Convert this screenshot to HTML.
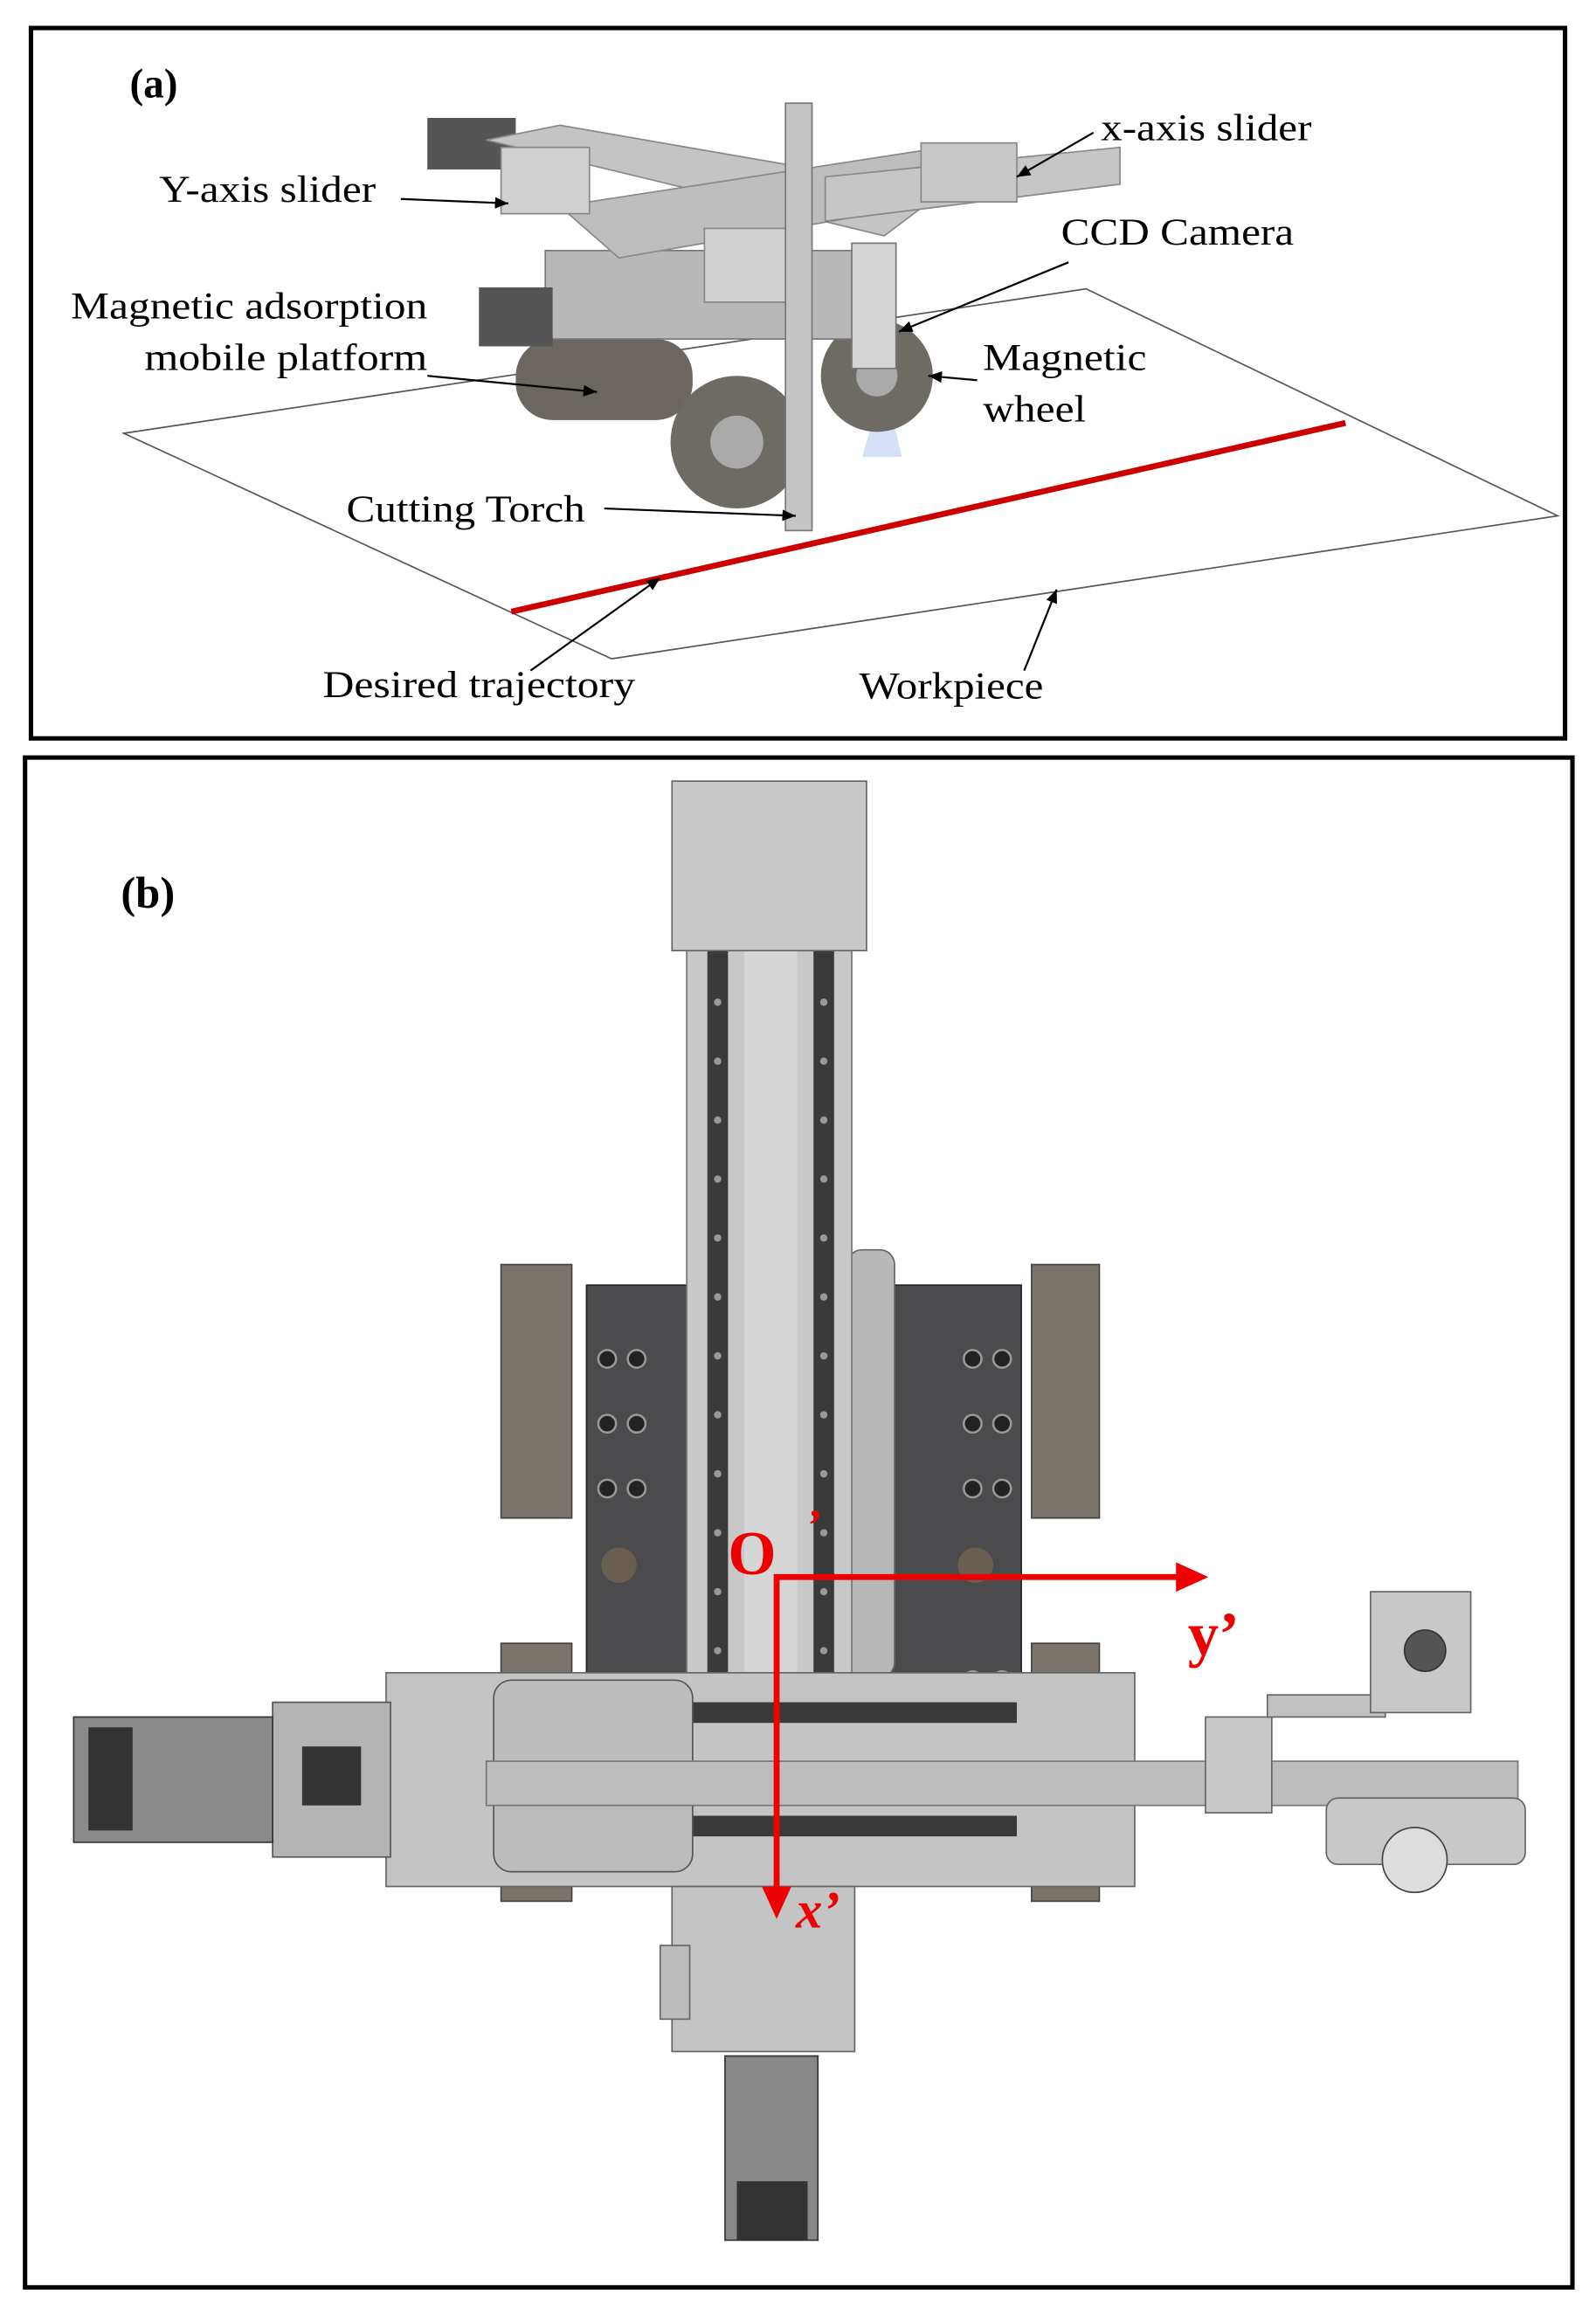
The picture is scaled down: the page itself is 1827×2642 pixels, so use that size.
<!DOCTYPE html>
<html><head><meta charset="utf-8"><style>
html,body{margin:0;padding:0;background:#fff;}
svg{display:block;}
text{font-family:"Liberation Serif",serif;}
</style></head><body>
<svg width="1827" height="2642" viewBox="0 0 1083 1566" preserveAspectRatio="none" xmlns="http://www.w3.org/2000/svg">
<defs>
<marker id="ar" markerWidth="8" markerHeight="8" refX="7" refY="4" orient="auto"><path d="M0,1 L7,4 L0,7 z" fill="#000"/></marker>
</defs>
<rect x="0" y="0" width="1083" height="1566" fill="#fff"/>
<!-- panel a -->
<rect x="21" y="19" width="1041" height="482" fill="#fff" stroke="#000" stroke-width="3"/>
<text x="88" y="66" font-size="28" font-weight="bold">(a)</text>
<polygon points="84,294 737,196 1057,350 415,447" fill="#fff" stroke="#555" stroke-width="1"/>
<line x1="347" y1="415" x2="913" y2="287" stroke="#c00" stroke-width="4"/>
<!-- machine (a) -->
<polygon points="585,310 600,260 612,310" fill="#c8d8f4" opacity="0.8"/>
<rect x="350" y="230" width="120" height="55" rx="25" fill="#6b6660"/>
<circle cx="500" cy="300" r="45" fill="#6e6a64"/><circle cx="500" cy="300" r="18" fill="#aaa"/>
<circle cx="595" cy="255" r="38" fill="#6e6a64"/><circle cx="595" cy="255" r="14" fill="#aaa"/>
<rect x="370" y="170" width="210" height="60" fill="#b8b8b8" stroke="#777"/>
<rect x="325" y="195" width="50" height="40" fill="#555"/>
<rect x="290" y="80" width="60" height="35" fill="#555"/>
<polygon points="330,95 380,85 640,130 600,160" fill="#c4c4c4" stroke="#888"/>
<polygon points="380,140 640,100 680,130 420,175" fill="#bdbdbd" stroke="#888"/>
<polygon points="560,120 760,100 760,125 560,150" fill="#c6c6c6" stroke="#888"/>
<rect x="625" y="97" width="65" height="40" fill="#c8c8c8" stroke="#888"/>
<rect x="340" y="100" width="60" height="45" fill="#d0d0d0" stroke="#888"/>
<rect x="478" y="155" width="60" height="50" fill="#d0d0d0" stroke="#888"/>
<rect x="533" y="70" width="18" height="290" fill="#c4c4c4" stroke="#777"/>
<rect x="578" y="165" width="30" height="85" fill="#d4d4d4" stroke="#777"/>
<!-- labels a -->
<g font-size="26" fill="#000" lengthAdjust="spacingAndGlyphs">
<text x="108" y="137" textLength="147" lengthAdjust="spacingAndGlyphs">Y-axis slider</text>
<text x="747" y="95" textLength="143" lengthAdjust="spacingAndGlyphs">x-axis slider</text>
<text x="720" y="166" textLength="158" lengthAdjust="spacingAndGlyphs">CCD Camera</text>
<text x="48" y="216" textLength="242" lengthAdjust="spacingAndGlyphs">Magnetic adsorption</text>
<text x="98" y="251" textLength="192" lengthAdjust="spacingAndGlyphs">mobile platform</text>
<text x="667" y="251" textLength="111" lengthAdjust="spacingAndGlyphs">Magnetic</text>
<text x="667" y="286" textLength="70" lengthAdjust="spacingAndGlyphs">wheel</text>
<text x="235" y="354" textLength="162" lengthAdjust="spacingAndGlyphs">Cutting Torch</text>
<text x="219" y="473" textLength="212" lengthAdjust="spacingAndGlyphs">Desired trajectory</text>
<text x="583" y="474" textLength="125" lengthAdjust="spacingAndGlyphs">Workpiece</text>
</g>
<g stroke="#000" stroke-width="1.3" fill="none" marker-end="url(#ar)">
<line x1="272" y1="135" x2="345" y2="138"/>
<line x1="742" y1="90" x2="690" y2="120"/>
<line x1="725" y1="178" x2="610" y2="225"/>
<line x1="290" y1="255" x2="405" y2="266"/>
<line x1="663" y1="258" x2="630" y2="255"/>
<line x1="410" y1="345" x2="540" y2="350"/>
<line x1="360" y1="455" x2="448" y2="392"/>
<line x1="695" y1="455" x2="717" y2="400"/>
</g>
<!-- panel b -->
<rect x="17" y="514" width="1050" height="1038" fill="#fff" stroke="#000" stroke-width="3"/>
<text x="82" y="616" font-size="30" font-weight="bold">(b)</text>
<g fill="#7a746c" stroke="#444">
<rect x="340" y="858" width="48" height="172"/>
<rect x="700" y="858" width="46" height="172"/>
<rect x="340" y="1115" width="48" height="25"/>
<rect x="700" y="1115" width="46" height="25"/>
<rect x="340" y="1265" width="48" height="25"/>
<rect x="700" y="1265" width="46" height="25"/>
</g>
<rect x="398" y="872" width="295" height="288" fill="#4b4b4d" stroke="#222"/>
<rect x="575" y="848" width="32" height="290" rx="10" fill="#b8b8b8" stroke="#666"/>
<g fill="#222" stroke="#999" stroke-width="1.5">
<circle cx="412" cy="922" r="6"/><circle cx="432" cy="922" r="6"/>
<circle cx="412" cy="966" r="6"/><circle cx="432" cy="966" r="6"/>
<circle cx="412" cy="1010" r="6"/><circle cx="432" cy="1010" r="6"/>
<circle cx="660" cy="922" r="6"/><circle cx="680" cy="922" r="6"/>
<circle cx="660" cy="966" r="6"/><circle cx="680" cy="966" r="6"/>
<circle cx="660" cy="1010" r="6"/><circle cx="680" cy="1010" r="6"/>
<circle cx="660" cy="1140" r="6"/><circle cx="680" cy="1140" r="6"/>
</g>
<circle cx="420" cy="1062" r="12" fill="#6a5e50"/>
<circle cx="662" cy="1062" r="12" fill="#6a5e50"/>
<rect x="466" y="645" width="112" height="510" fill="#c8c8c8" stroke="#777"/>
<rect x="480" y="645" width="14" height="510" fill="#3a3a3a"/>
<rect x="552" y="645" width="14" height="510" fill="#3a3a3a"/>
<rect x="505" y="645" width="36" height="510" fill="#d6d6d6"/>
<g fill="#999">
<circle cx="487" cy="680" r="2.5"/><circle cx="487" cy="720" r="2.5"/><circle cx="487" cy="760" r="2.5"/><circle cx="487" cy="800" r="2.5"/><circle cx="487" cy="840" r="2.5"/><circle cx="487" cy="880" r="2.5"/><circle cx="487" cy="920" r="2.5"/><circle cx="487" cy="960" r="2.5"/><circle cx="487" cy="1000" r="2.5"/><circle cx="487" cy="1040" r="2.5"/><circle cx="487" cy="1080" r="2.5"/><circle cx="487" cy="1120" r="2.5"/>
<circle cx="559" cy="680" r="2.5"/><circle cx="559" cy="720" r="2.5"/><circle cx="559" cy="760" r="2.5"/><circle cx="559" cy="800" r="2.5"/><circle cx="559" cy="840" r="2.5"/><circle cx="559" cy="880" r="2.5"/><circle cx="559" cy="920" r="2.5"/><circle cx="559" cy="960" r="2.5"/><circle cx="559" cy="1000" r="2.5"/><circle cx="559" cy="1040" r="2.5"/><circle cx="559" cy="1080" r="2.5"/><circle cx="559" cy="1120" r="2.5"/>
</g>
<rect x="456" y="530" width="132" height="115" fill="#c8c8c8" stroke="#666"/>
<rect x="262" y="1135" width="508" height="145" fill="#c4c4c4" stroke="#666"/>
<rect x="470" y="1155" width="220" height="14" fill="#3a3a3a"/>
<rect x="470" y="1232" width="220" height="14" fill="#3a3a3a"/>
<rect x="335" y="1140" width="135" height="130" rx="12" fill="#bcbcbc" stroke="#555"/>
<rect x="185" y="1155" width="80" height="105" fill="#b4b4b4" stroke="#555"/>
<rect x="50" y="1165" width="135" height="85" fill="#8a8a8a" stroke="#333"/>
<rect x="60" y="1172" width="30" height="70" fill="#333"/>
<rect x="205" y="1185" width="40" height="40" fill="#333"/>
<rect x="330" y="1195" width="700" height="30" fill="#bdbdbd" stroke="#777"/>
<rect x="818" y="1165" width="45" height="65" fill="#c8c8c8" stroke="#666"/>
<rect x="860" y="1150" width="80" height="15" fill="#c0c0c0" stroke="#666"/>
<rect x="930" y="1080" width="68" height="82" fill="#c8c8c8" stroke="#666"/>
<circle cx="967" cy="1120" r="14" fill="#555" stroke="#333"/>
<rect x="900" y="1220" width="135" height="45" rx="8" fill="#c8c8c8" stroke="#666"/>
<circle cx="960" cy="1262" r="22" fill="#ddd" stroke="#444"/>
<rect x="456" y="1280" width="124" height="112" fill="#c4c4c4" stroke="#666"/>
<rect x="448" y="1320" width="20" height="50" fill="#bbb" stroke="#666"/>
<rect x="492" y="1395" width="63" height="125" fill="#888" stroke="#333"/>
<rect x="500" y="1480" width="48" height="40" fill="#333"/>
<g stroke="#e00" stroke-width="4" fill="#e00">
<line x1="527" y1="1070" x2="800" y2="1070"/>
<polygon points="820,1070 798,1060 798,1080" stroke="none"/>
<line x1="527" y1="1068" x2="527" y2="1285"/>
<polygon points="527,1302 517,1280 537,1280" stroke="none"/>
</g>
<text x="494" y="1068" font-size="42" font-weight="bold" fill="#e00">O</text>
<text x="548" y="1045" font-size="30" font-weight="bold" fill="#e00">’</text>
<text x="806" y="1123" font-size="42" font-weight="bold" fill="#e00">y’</text>
<text x="540" y="1308" font-size="36" font-weight="bold" font-style="italic" fill="#e00">x’</text>
</svg>
</body></html>
